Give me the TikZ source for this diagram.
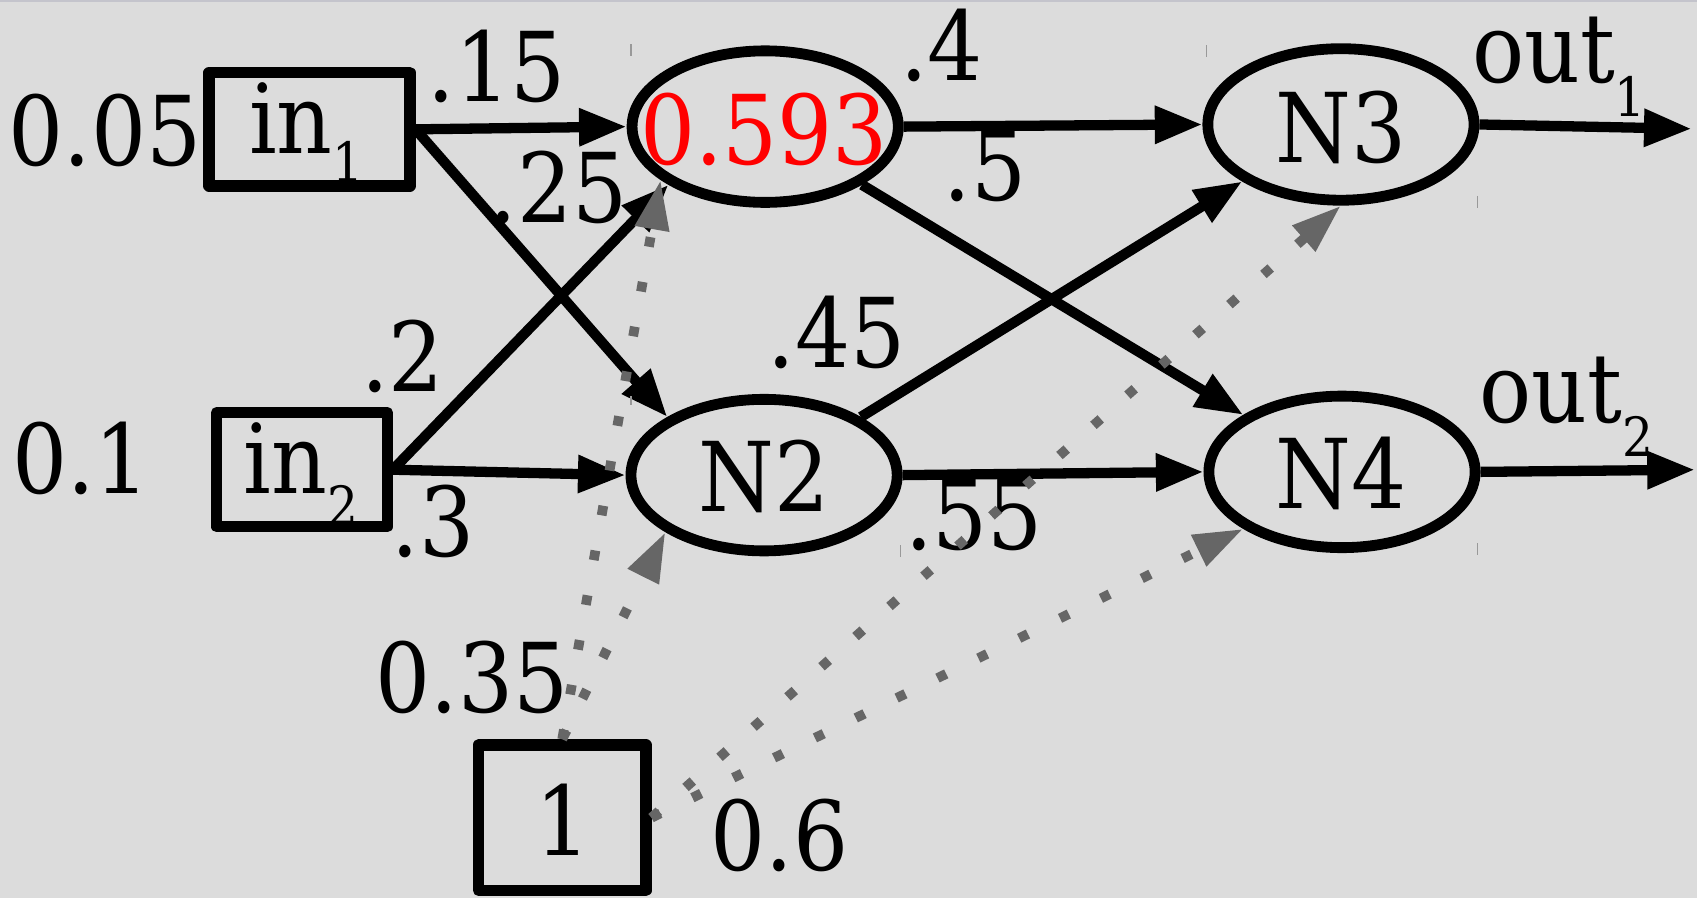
\documentclass[tikz,border=0pt]{standalone}
\usepackage{fontspec}
\setmainfont{DejaVu Serif Condensed}
\usetikzlibrary{arrows.meta,calc,shapes.geometric}
\definecolor{bg}{HTML}{DCDCDC}
\definecolor{dotgray}{HTML}{666666}
\definecolor{topline}{HTML}{C4C4CC}
\newcommand\bigf{\fontsize{89}{92}\selectfont}
\newcommand\subf{\fontsize{50}{52}\selectfont}
\newcommand\mysub[2][30pt]{\raisebox{-#1}{\subf #2}}
\begin{document}
\begin{tikzpicture}[x=1pt,y=-1pt,
  box/.style={draw, rectangle, line width=10.5pt, line join=round, inner sep=0pt},
  neuron/.style={draw, ellipse, line width=10pt, minimum width=246pt, minimum height=140pt, inner sep=0pt},
  lbl/.style={inner sep=0pt, anchor=base, font=\bigf},
  edge/.style={line width=9.5pt, -{Triangle[length=44pt,width=33pt]}},
  biasedge/.style={dotgray, line width=9pt, dash pattern=on 9pt off 33pt, -{Triangle[length=46pt,width=30pt]}},
  tick/.style={gray!80, line width=1.2pt}]
\fill[bg] (0,0) rectangle (1568,830);
\useasboundingbox (0,0) rectangle (1568,830);
\fill[topline] (0,0) rectangle (1568,1.5);

% nodes
\node[box, minimum width=185.5pt, minimum height=104.5pt] (in1) at (286,119.5) {};
\node[box, minimum width=157.5pt, minimum height=105.5pt] (in2) at (279,434) {};
\node[box, minimum width=154.5pt, minimum height=134.5pt] (bias) at (519.5,755.5) {};
\node[neuron] (N1) at (707,117) {};
\node[neuron] (N2) at (706,439) {};
\node[neuron] (N3) at (1239,115) {};
\node[neuron] (N4) at (1240,436) {};

% node texts
\node[lbl, anchor=base west] (in1t) at (230,142) {in\mysub[26pt]{1}};
\node[lbl, anchor=base west] (in2t) at (225,456) {in\mysub[30pt]{2}};
\node[lbl] (biast) at (520,790) {1};
\node[lbl, text=red] (N1t) at (706,152) {0.593};
\node[lbl] (N2t) at (706,473) {N2};
\node[lbl] (N3t) at (1239,150) {N3};
\node[lbl] (N4t) at (1239,470) {N4};

% input / output values
\node[lbl] (v1) at (97,153) {0.05};
\node[lbl] (v2) at (75,456) {0.1};
\node[lbl, anchor=base west] (out1) at (1360,76) {out\mysub[32pt]{1}};
\node[lbl, anchor=base west] (out2) at (1367,390) {out\mysub[32pt]{2}};

% black connectors
\coordinate (o1) at (1563,119);
\coordinate (o2) at (1566,434);
\draw[edge] (in1.east) -- (N1.west);
\draw[edge] (in1.east) -- (N2.149);
\draw[edge] (in2.east) -- (N1.211);
\draw[edge] (in2.east) -- (N2.west);
\draw[edge] (N1.east) -- (N3.west);
\draw[edge] (N1.-31) -- (N4.150);
\draw[edge] (N2.31) -- (N3.210);
\draw[edge] (N2.east) -- (N4.west);
\draw[edge] (N3.east) -- (o1);
\draw[edge] (N4.east) -- (o2);

% weight labels
\node[lbl] (w15) at (459,94) {.15};
\node[lbl] (w25) at (516,206) {.25};
\node[lbl] (w2) at (372,362) {.2};
\node[lbl] (w3) at (400,514) {.3};
\node[lbl] (w4) at (870,74) {.4};
\node[lbl] (w5) at (910,185) {.5};
\node[lbl] (w45) at (773,340) {.45};
\node[lbl] (w55) at (900,508) {.55};
\node[lbl] (b35) at (436,658) {0.35};
\node[lbl] (b6) at (720,804) {0.6};

% bias connectors
\draw[biasedge] (bias.north) -- (N1.207);
\draw[biasedge] (bias.north) -- (N2.210);
\draw[biasedge] (bias.east) -- (N3.south);
\draw[biasedge] (bias.east) -- (N4.210);

% small marks
\draw[tick] (583,41) -- (583,52);
\draw[tick] (1115,42) -- (1115,53);
\draw[tick] (1365,181) -- (1365,192);
\draw[tick] (832,504) -- (832,515);
\draw[tick] (1365,502) -- (1365,513);
\draw[tick] (583,366) -- (583,374);
\end{tikzpicture}
\end{document}
